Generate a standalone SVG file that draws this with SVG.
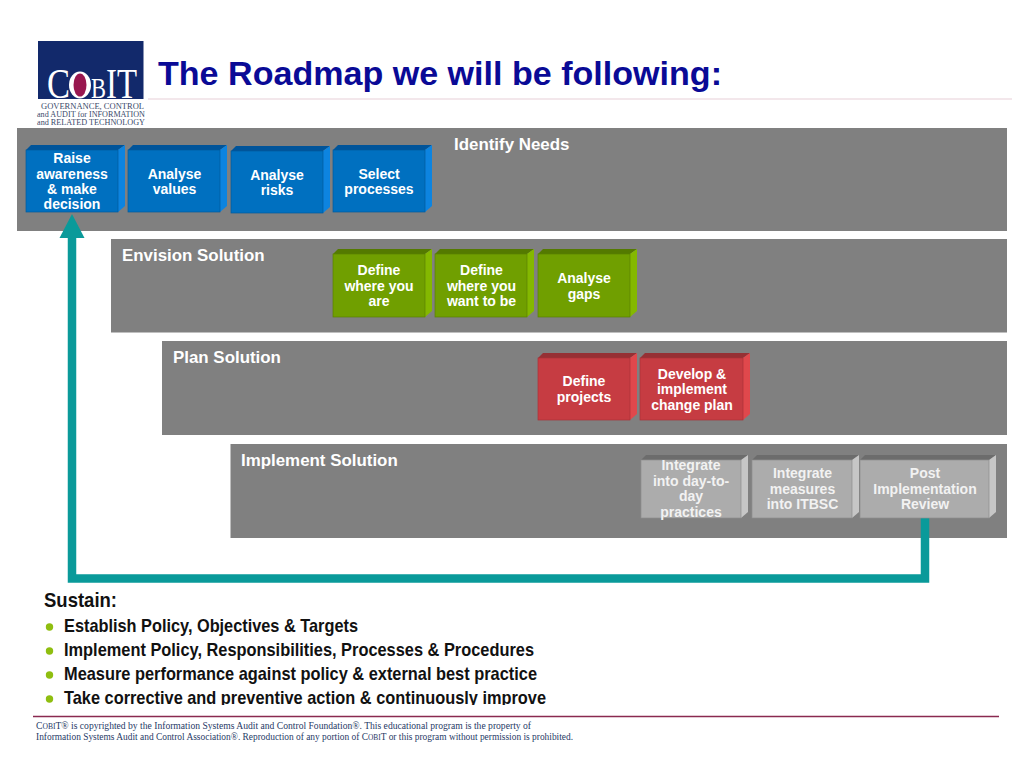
<svg xmlns="http://www.w3.org/2000/svg" width="1024" height="768" viewBox="0 0 1024 768">
<style>
text{font-family:"Liberation Sans",Arial,sans-serif}
.band{fill:#808080}
.bl{font-size:16.9px;font-weight:bold;fill:#fff}
.n{font-size:14px;font-weight:bold;fill:#fff;text-anchor:middle}
.blue .f{fill:#0070c0;stroke:#005a9c}.blue .t{fill:#00549a}.blue .s{fill:#0d84e0}
.green .f{fill:#709f00;stroke:#5a8000}.green .t{fill:#547a00}.green .s{fill:#84b800}
.red .f{fill:#c63c42;stroke:#a83238}.red .t{fill:#963034}.red .s{fill:#e0484c}
.gray .f{fill:#acacac;stroke:#8e8e8e}.gray .t{fill:#6c6c6c}.gray .s{fill:#c6c6c6}
.f{stroke-width:.7}
.grayn text{fill:#f2f2f2}
.li{font-size:19px;font-weight:bold;fill:#111}
.foot{font-family:"Liberation Serif",serif;font-size:9.6px;fill:#1f3a66}
.sc{font-size:7.6px}
.lg{font-family:"Liberation Serif",serif;font-size:8.500px;fill:#3a4a6a;text-anchor:middle}
.cob{font-family:"Liberation Serif",serif;fill:#fff}
</style>
<rect width="1024" height="768" fill="#fff"/>
<g id="logo">
<rect x="38" y="41" width="105.500" height="58" fill="#12296b"/>
<path d="M38 99V70H46V99Z" fill="#12296b"/>
<text class="cob" x="47" y="98" font-size="43" textLength="23" lengthAdjust="spacingAndGlyphs">C</text>
<ellipse cx="80" cy="85" rx="11" ry="13.500" fill="#fff"/>
<ellipse cx="80" cy="85" rx="6.500" ry="11.500" fill="#98174f"/>
<text class="cob" x="91" y="98" font-size="30" textLength="15" lengthAdjust="spacingAndGlyphs">B</text>
<text class="cob" x="106" y="98" font-size="43" textLength="31" lengthAdjust="spacingAndGlyphs">IT</text>
<text x="92.500" y="108.500" class="lg" textLength="103" lengthAdjust="spacingAndGlyphs">GOVERNANCE, CONTROL</text>
<text x="91" y="116.500" class="lg" textLength="108" lengthAdjust="spacingAndGlyphs">and AUDIT for INFORMATION</text>
<text x="91" y="125" class="lg" textLength="108" lengthAdjust="spacingAndGlyphs">and RELATED TECHNOLOGY</text>
</g>
<text id="title" x="158" y="85" font-size="33.500" font-weight="bold" fill="#0a0a96" textLength="564" lengthAdjust="spacingAndGlyphs">The Roadmap we will be following:</text>
<line x1="148" y1="99" x2="1012" y2="99" stroke="#e8cfd8" stroke-width="1.200"/>

<g id="bands">
<g id="band-identify"><rect class="band" x="17" y="128" width="990" height="103"/><text class="bl" x="454" y="149.500">Identify Needs</text></g>
<g id="band-envision"><rect class="band" x="111" y="239" width="896" height="93.500"/><text class="bl" x="122" y="260.500">Envision Solution</text></g>
<g id="band-plan"><rect class="band" x="162" y="341" width="845" height="94"/><text class="bl" x="173" y="363">Plan Solution</text></g>
<g id="band-implement"><rect class="band" x="230.500" y="444" width="776.500" height="94"/><text class="bl" x="241" y="465.500">Implement Solution</text></g>
</g>

<g id="connectors">
<path d="M925 518V578.500H72V236" fill="none" stroke="#0a9a9a" stroke-width="8.500"/>
<polygon points="72,214 84.500,238 59.500,238" fill="#0a9a9a"/>
</g>

<g id="node-raise" class="blue"><polygon class="t" points="26,150 31,145 125,145 118,150"/><polygon class="s" points="118,150 125,145 125,206 118,212"/><rect class="f" x="26" y="150" width="92" height="62"/><text class="n"><tspan x="72" y="163">Raise</tspan><tspan x="72" y="178.500">awareness</tspan><tspan x="72" y="194">&amp; make</tspan><tspan x="72" y="209">decision</tspan></text></g>
<g id="node-values" class="blue"><polygon class="t" points="128,150 133,145 227,145 220,150"/><polygon class="s" points="220,150 227,145 227,206 220,212"/><rect class="f" x="128" y="150" width="92" height="62"/><text class="n"><tspan x="174.500" y="178.500">Analyse</tspan><tspan x="174.500" y="194">values</tspan></text></g>
<g id="node-risks" class="blue"><polygon class="t" points="231,151 236,146 330,146 323,151"/><polygon class="s" points="323,151 330,146 330,207 323,213"/><rect class="f" x="231" y="151" width="92" height="62"/><text class="n"><tspan x="277" y="179.500">Analyse</tspan><tspan x="277" y="195">risks</tspan></text></g>
<g id="node-select" class="blue"><polygon class="t" points="333,150 338,145 432,145 425,150"/><polygon class="s" points="425,150 432,145 432,206 425,212"/><rect class="f" x="333" y="150" width="92" height="62"/><text class="n"><tspan x="379" y="178.500">Select</tspan><tspan x="379" y="194">processes</tspan></text></g>

<g id="node-where" class="green"><polygon class="t" points="333,254 338,249 432,249 425,254"/><polygon class="s" points="425,254 432,249 432,311 425,317"/><rect class="f" x="333" y="254" width="92" height="63"/><text class="n"><tspan x="379" y="275">Define</tspan><tspan x="379" y="290.500">where you</tspan><tspan x="379" y="306">are</tspan></text></g>
<g id="node-want" class="green"><polygon class="t" points="435,254 440,249 534,249 527,254"/><polygon class="s" points="527,254 534,249 534,311 527,317"/><rect class="f" x="435" y="254" width="92" height="63"/><text class="n"><tspan x="481.500" y="275">Define</tspan><tspan x="481.500" y="290.500">where you</tspan><tspan x="481.500" y="306">want to be</tspan></text></g>
<g id="node-gaps" class="green"><polygon class="t" points="538,254 543,249 637,249 630,254"/><polygon class="s" points="630,254 637,249 637,311 630,317"/><rect class="f" x="538" y="254" width="92" height="63"/><text class="n"><tspan x="584" y="283">Analyse</tspan><tspan x="584" y="298.500">gaps</tspan></text></g>

<g id="node-projects" class="red"><polygon class="t" points="538,358 543,353 637,353 630,358"/><polygon class="s" points="630,358 637,353 637,414 630,420"/><rect class="f" x="538" y="358" width="92" height="62"/><text class="n"><tspan x="584" y="386">Define</tspan><tspan x="584" y="401.500">projects</tspan></text></g>
<g id="node-change" class="red"><polygon class="t" points="640,358 645,353 750,353 743,358"/><polygon class="s" points="743,358 750,353 750,414 743,420"/><rect class="f" x="640" y="358" width="103" height="62"/><text class="n"><tspan x="692" y="378.500">Develop &amp;</tspan><tspan x="692" y="394">implement</tspan><tspan x="692" y="409.500">change plan</tspan></text></g>

<g id="node-daytoday" class="gray grayn"><polygon class="t" points="641,460 646,455 748,455 741,460"/><polygon class="s" points="741,460 748,455 748,512 741,518"/><rect class="f" x="641" y="460" width="100" height="58"/><text class="n"><tspan x="691" y="470">Integrate</tspan><tspan x="691" y="485.500">into day-to-</tspan><tspan x="691" y="501">day</tspan><tspan x="691" y="516.500">practices</tspan></text></g>
<g id="node-measures" class="gray grayn"><polygon class="t" points="752,460 757,455 859,455 852,460"/><polygon class="s" points="852,460 859,455 859,512 852,518"/><rect class="f" x="752" y="460" width="100" height="58"/><text class="n"><tspan x="802.500" y="478">Integrate</tspan><tspan x="802.500" y="493.500">measures</tspan><tspan x="802.500" y="509">into ITBSC</tspan></text></g>
<g id="node-review" class="gray grayn"><polygon class="t" points="860,460 865,455 996,455 989,460"/><polygon class="s" points="989,460 996,455 996,512 989,518"/><rect class="f" x="860" y="460" width="129" height="58"/><text class="n"><tspan x="925" y="478">Post</tspan><tspan x="925" y="493.500">Implementation</tspan><tspan x="925" y="509">Review</tspan></text></g>

<g id="sustain">
<text x="44" y="607" font-size="21" font-weight="bold" fill="#111" textLength="73" lengthAdjust="spacingAndGlyphs">Sustain:</text>
<g fill="#8fbe10"><circle cx="49.500" cy="627" r="3.700"/><circle cx="49.500" cy="651" r="3.700"/><circle cx="49.500" cy="675" r="3.700"/><circle cx="49.500" cy="699" r="3.700"/></g>
<text class="li" x="64" y="632" textLength="294" lengthAdjust="spacingAndGlyphs">Establish Policy, Objectives &amp; Targets</text>
<text class="li" x="64" y="656" textLength="470" lengthAdjust="spacingAndGlyphs">Implement Policy, Responsibilities, Processes &amp; Procedures</text>
<text class="li" x="64" y="680" textLength="473" lengthAdjust="spacingAndGlyphs">Measure performance against policy &amp; external best practice</text>
<text class="li" x="64" y="704" textLength="482" lengthAdjust="spacingAndGlyphs">Take corrective and preventive action &amp; continuously improve</text>
<rect x="30" y="705" width="540" height="10" fill="#fff"/>
</g>

<g id="footer">
<line x1="33" y1="716.500" x2="999" y2="716.500" stroke="#8a2a50" stroke-width="1.300"/>
<text class="foot" x="36" y="729" textLength="495" lengthAdjust="spacingAndGlyphs">C<tspan class="sc">OBI</tspan>T® is copyrighted by the Information Systems Audit and Control Foundation®. This educational program is the property of</text>
<text class="foot" x="36" y="740" textLength="537" lengthAdjust="spacingAndGlyphs">Information Systems Audit and Control Association®. Reproduction of any portion of C<tspan class="sc">OBI</tspan>T or this program without permission is prohibited.</text>
</g>
</svg>
